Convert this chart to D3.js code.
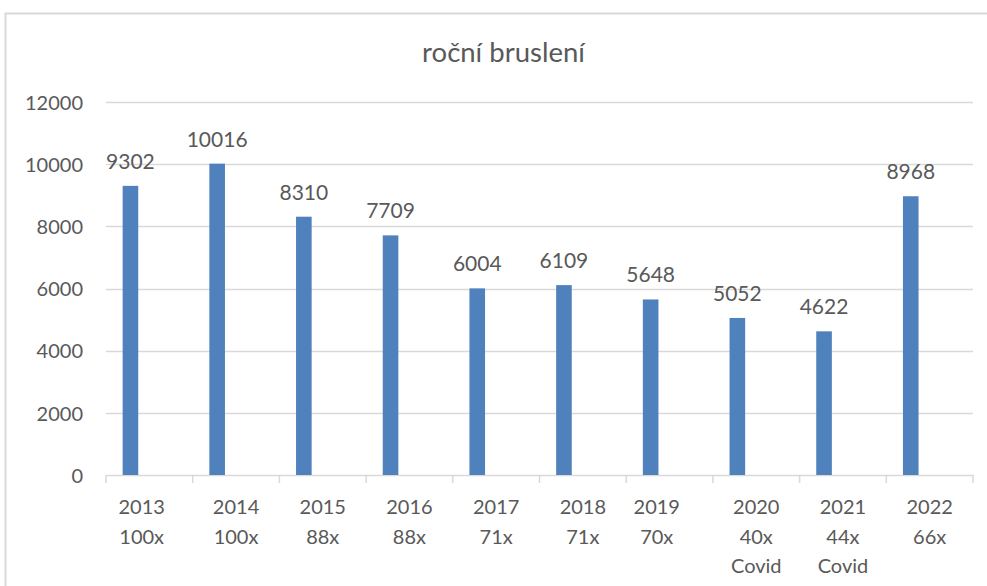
<!DOCTYPE html>
<html>
<head>
<meta charset="utf-8">
<script src="https://cdn.jsdelivr.net/npm/d3@7"></script>
<style>
  html, body { margin: 0; padding: 0; background: #fff; }
  svg { display: block; }
  text { font-family: Lato, "Noto Sans", sans-serif; fill: #595959; white-space: pre; }
</style>
</head>
<body>
<svg id="chart" width="987" height="586"></svg>
<script>
// ---- data ----
const title = "roční bruslení";
const categories = ["2013", "2014", "2015", "2016", "2017", "2018", "2019", "2020", "2021", "2022"];
const values = [9302, 10016, 8310, 7709, 6004, 6109, 5648, 5052, 4622, 8968];
const categoryLabels = [
  ["2013   ", "100x   "],
  ["2014", "100x"],
  ["2015", "88x"],
  ["2016", "88x"],
  ["2017", "71x"],
  ["2018", "71x"],
  ["2019     ", "70x     "],
  ["2020", "40x", "Covid"],
  ["2021", "44x", "Covid"],
  ["2022", "66x"]
];
const yTicks = [0, 2000, 4000, 6000, 8000, 10000, 12000];

// ---- layout ----
const W = 987, H = 586;
const plot = { left: 106, right: 973, top: 102, bottom: 475 };
const svg = d3.select("#chart");

// chart area border (left and top visible)
svg.append("rect")
  .attr("x", 5.5).attr("y", 13.5)
  .attr("width", 1100).attr("height", 700)
  .attr("fill", "none").attr("stroke", "#d9d9d9").attr("stroke-width", 2);

const x = d3.scaleBand().domain(categories).range([plot.left, plot.right]).padding(0);
const y = d3.scaleLinear().domain([0, 12000]).range([plot.bottom, plot.top]);

// gridlines
svg.append("g").selectAll("line").data(yTicks.filter(d => d > 0)).join("line")
  .attr("x1", plot.left).attr("x2", plot.right)
  .attr("y1", d => Math.round(y(d)) + 0.5).attr("y2", d => Math.round(y(d)) + 0.5)
  .attr("stroke", "#d9d9d9").attr("stroke-width", 1.5);

// y axis labels
const yAxis = d3.axisLeft(y).tickValues(yTicks).tickSize(0).tickPadding(23).tickFormat(d3.format("d"));
const gy = svg.append("g").attr("transform", `translate(${plot.left},0)`).call(yAxis);
gy.select(".domain").remove();
gy.selectAll("text").attr("font-size", 20).style("font-family", "Lato, 'Noto Sans', sans-serif").attr("fill", "#595959").attr("dy", "0.36em");

// x axis
const xAxis = d3.axisBottom(x).tickSize(0).tickFormat("");
const gx = svg.append("g").attr("transform", `translate(0,${plot.bottom})`).call(xAxis);
gx.select(".domain").attr("stroke", "#d9d9d9").attr("stroke-width", 1.5);
gx.selectAll(".tick").remove();
// category boundary tick marks
const bounds = categories.map(c => x(c)).concat([x(categories[categories.length - 1]) + x.bandwidth()]);
svg.append("g").selectAll("line").data(bounds).join("line")
  .attr("x1", d => d).attr("x2", d => d)
  .attr("y1", plot.bottom).attr("y2", plot.bottom + 8)
  .attr("stroke", "#d9d9d9").attr("stroke-width", 1.5);

// category labels
const lab = svg.append("g").selectAll("text").data(categories).join("text")
  .attr("text-anchor", "middle")
  .attr("font-size", 20)
  .attr("x", d => x(d) + x.bandwidth() / 2)
  .attr("y", 514);
lab.each(function(d, i) {
  const t = d3.select(this);
  categoryLabels[i].forEach((line, j) => {
    t.append("tspan")
      .attr("x", x(d) + x.bandwidth() / 2)
      .attr("dy", j === 0 ? 0 : 29.5)
      .text(line);
  });
});

// bars
const barOffset = 0.192, barWidth = 0.18;
svg.append("g").selectAll("rect").data(values).join("rect")
  .attr("x", (d, i) => x(categories[i]) + x.bandwidth() * barOffset)
  .attr("width", x.bandwidth() * barWidth)
  .attr("y", d => y(d))
  .attr("height", d => y(0) - y(d))
  .attr("fill", "#4f81bd");

// value labels
svg.append("g").selectAll("text").data(values).join("text")
  .attr("text-anchor", "middle")
  .attr("font-size", 21)
  .attr("x", (d, i) => x(categories[i]) + x.bandwidth() * (barOffset + barWidth / 2))
  .attr("y", d => y(d) - 17)
  .attr("fill", "#404040")
  .text(d => d);

// title
svg.append("text")
  .attr("x", 503.5).attr("y", 62)
  .attr("text-anchor", "middle")
  .attr("font-size", 27.5)
  .text(title);
</script>
</body>
</html>
